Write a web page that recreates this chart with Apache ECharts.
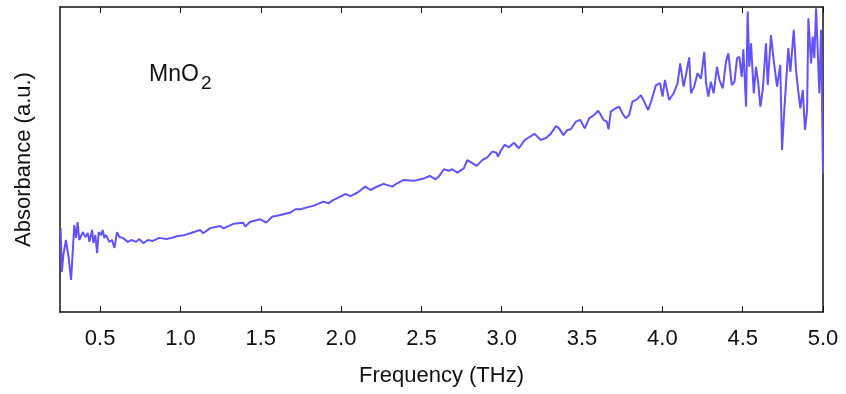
<!DOCTYPE html>
<html>
<head>
<meta charset="utf-8">
<script src="https://cdn.jsdelivr.net/npm/echarts@6/dist/echarts.min.js"></script>
<style>
  html, body { margin: 0; padding: 0; background: #fff; }
  #chart { width: 846px; height: 394px; }
</style>
</head>
<body>
<div id="chart"></div>
<script>
// THz absorbance spectrum of MnO2 (arbitrary units)
const freq = [
  0.254,0.261,0.271,0.287,0.304,0.319,0.339,0.350,0.360,0.370,
  0.392,0.408,0.423,0.433,0.450,0.458,0.470,0.481,0.491,0.506,
  0.516,0.526,0.537,0.557,0.574,0.589,0.605,0.620,0.641,0.672,
  0.693,0.724,0.744,0.769,0.797,0.828,0.867,0.911,0.953,0.984,1.023,
  1.060,1.123,1.142,1.185,1.248,1.268,1.329,1.391,1.403,1.435,
  1.497,1.534,1.570,1.622,1.684,1.715,1.746,1.788,1.798,1.827,
  1.890,1.921,1.944,1.996,2.027,2.058,2.100,2.151,2.183,2.214,
  2.264,2.318,2.349,2.390,2.451,2.515,2.552,2.588,2.608,2.640,
  2.671,2.692,2.723,2.764,2.785,2.817,2.844,2.879,2.910,2.941,
  2.968,2.976,2.997,3.018,3.045,3.076,3.107,3.143,3.170,3.205,
  3.243,3.274,3.305,3.338,3.357,3.384,3.409,3.430,3.461,3.488,
  3.517,3.544,3.575,3.600,3.617,3.633,3.654,3.665,3.679,3.710,
  3.731,3.752,3.772,3.793,3.814,3.841,3.866,3.887,3.911,3.933,
  3.960,3.986,4.001,4.016,4.042,4.070,4.095,4.111,4.132,4.147,
  4.167,4.178,4.198,4.219,4.240,4.261,4.272,4.286,4.302,4.319,
  4.340,4.355,4.376,4.396,4.411,4.432,4.449,4.465,4.479,4.494,
  4.504,4.521,4.531,4.541,4.552,4.569,4.583,4.597,4.610,4.625,
  4.645,4.656,4.676,4.693,4.714,4.734,4.745,4.759,4.784,4.797,
  4.818,4.832,4.845,4.859,4.874,4.888,4.901,4.909,4.926,4.936,
  4.946,4.957,4.967,4.977,4.988,5.000
];
const absorbance = [
  27.5,13.1,18.7,23.6,17.7,10.5,28.5,24.3,29.5,23.6,
  26.2,24.6,25.9,23.0,26.9,22.6,25.2,19.3,26.2,25.2,
  26.9,24.3,25.2,23.0,23.6,21.0,26.2,24.6,24.3,23.0,
  23.6,23.0,23.9,22.6,23.6,23.3,24.3,23.9,24.4,24.9,25.2,
  25.8,26.9,25.8,27.5,28.2,27.4,28.9,29.3,28.0,29.6,
  30.4,29.3,31.2,31.8,32.6,33.7,33.7,34.3,33.7,34.8,
  36.2,35.6,36.5,37.8,38.7,38.0,39.1,41.1,40.0,40.9,
  42.0,41.1,42.2,43.3,43.0,43.8,44.6,43.5,44.4,46.8,
  46.3,46.8,45.7,47.1,49.8,48.8,47.9,49.8,50.7,52.6,
  52.2,50.9,53.1,54.8,54.0,55.5,53.7,56.4,57.3,58.4,
  56.4,57.0,58.4,61.0,60.2,58.0,59.7,59.9,62.4,63.0,
  60.2,63.5,64.6,66.0,64.6,63.0,62.4,59.9,65.7,66.8,
  67.3,65.1,63.5,64.6,69.0,69.7,71.1,69.0,66.2,69.5,
  74.4,75.0,70.6,76.1,69.5,71.7,75.0,81.5,73.9,77.7,
  83.5,71.7,73.9,78.3,76.5,85.3,75.0,70.6,75.5,71.7,
  80.4,76.1,73.3,82.1,84.8,74.4,75.5,83.2,83.7,77.1,
  86.1,67.3,98.5,80.4,88.1,71.7,80.4,75.0,67.3,72.8,
  88.1,74.4,90.8,82.6,73.9,81.0,53.1,66.2,86.5,78.8,
  92.5,79.3,72.8,66.8,72.8,59.7,66.2,96.3,81.5,90.3,
  83.2,99.6,85.9,71.7,92.5,45.5
];
const freqTicks = [0.5,1.0,1.5,2.0,2.5,3.0,3.5,4.0,4.5,5.0];
const xTitle = 'Frequency (THz)';
const yTitle = 'Absorbance (a.u.)';

const FONT = '"Liberation Sans", Arial, sans-serif';
const INK = '#111';
const LINE = '#6352ff';

const chart = echarts.init(document.getElementById('chart'), null, { renderer: 'canvas' });

// frame lines stay on the plot edges instead of snapping to zero
const axisLine = { show: true, onZero: false, lineStyle: { color: INK, width: 1.5 } };
const freqTick = { show: true, inside: true, length: 6, customValues: freqTicks,
                   lineStyle: { color: INK, width: 1 } };

chart.setOption({
  animation: false,
  backgroundColor: '#fff',
  grid: { left: 60, right: 23, top: 7, bottom: 82, outerBoundsMode: 'none' },
  xAxis: [
    {
      type: 'value', min: 0.25, max: 5.0, position: 'bottom',
      axisLine: axisLine,
      axisTick: freqTick,
      axisLabel: { show: true, customValues: freqTicks, margin: 16,
                   fontFamily: FONT, fontSize: 22, color: INK,
                   formatter: v => v.toFixed(1) },
      splitLine: { show: false },
      name: xTitle, nameLocation: 'middle', nameGap: 53,
      nameTextStyle: { fontFamily: FONT, fontSize: 22, color: INK }
    },
    {
      type: 'value', min: 0.25, max: 5.0, position: 'top',
      axisLine: axisLine,
      axisTick: freqTick,
      axisLabel: { show: false },
      splitLine: { show: false }
    }
  ],
  yAxis: [
    {
      type: 'value', min: 0, max: 100, position: 'left',
      axisLine: axisLine, axisTick: { show: false }, axisLabel: { show: false },
      splitLine: { show: false },
      name: yTitle, nameLocation: 'middle', nameGap: 25,
      nameTextStyle: { fontFamily: FONT, fontSize: 22, color: INK }
    },
    {
      type: 'value', min: 0, max: 100, position: 'right',
      axisLine: axisLine, axisTick: { show: false }, axisLabel: { show: false },
      splitLine: { show: false }
    }
  ],
  graphic: [
    { type: 'text', left: 149, top: 63,
      style: { text: 'MnO', font: '23px "Liberation Sans", Arial, sans-serif', fill: INK } },
    { type: 'text', left: 201, top: 74,
      style: { text: '2', font: '19px "Liberation Sans", Arial, sans-serif', fill: INK } }
  ],
  series: [{
    type: 'line',
    xAxisIndex: 0,
    yAxisIndex: 0,
    data: freq.map((f, i) => [f, absorbance[i]]),
    showSymbol: false,
    clip: true,
    lineStyle: { color: LINE, width: 2 },
    z: 3
  }]
});
</script>
</body>
</html>
